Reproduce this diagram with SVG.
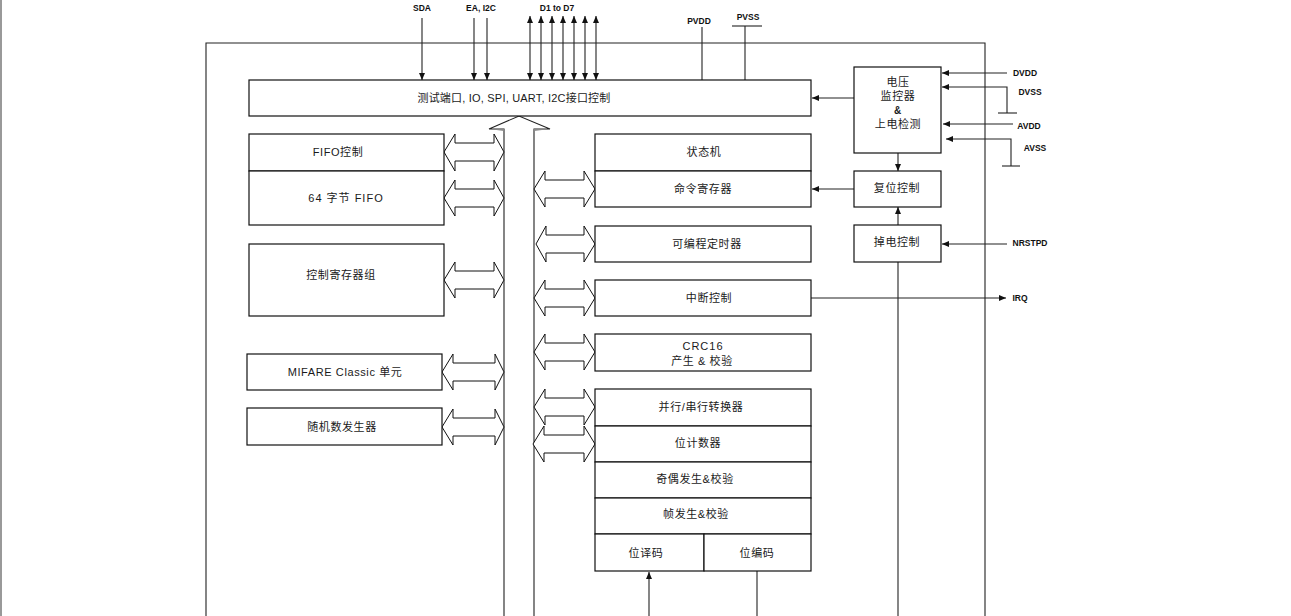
<svg xmlns="http://www.w3.org/2000/svg" width="1291" height="616" viewBox="0 0 1291 616">
<style>
.box{fill:#fff;stroke:#111;stroke-width:1.2}
.ln{stroke:#222;stroke-width:1.1;fill:none}
.dbl{fill:#fff;stroke:#111;stroke-width:1}
.t{font-family:"Liberation Sans","Noto Sans CJK SC",sans-serif;font-size:11px;fill:#1a1a1a;text-anchor:middle;dominant-baseline:central;letter-spacing:0.6px}
.s{font-family:"Liberation Sans","Noto Sans CJK SC",sans-serif;font-size:8.5px;font-weight:bold;fill:#111;text-anchor:middle;dominant-baseline:central}
</style>
<defs>
<marker id="ah" markerUnits="userSpaceOnUse" markerWidth="7" markerHeight="6" refX="7" refY="3" orient="auto-start-reverse"><path d="M0,0 L7,3 L0,6 z" fill="#111"/></marker>
</defs>
<rect x="0" y="0" width="1291" height="616" fill="#fff"/>
<line x1="1" y1="0" x2="1" y2="616" stroke="#777" stroke-width="1.5"/>
<!-- outer frame -->
<path class="ln" d="M206,616 V43 H985 V616" stroke="#222"/>

<g id="connectors">
  <!-- top signals -->
  <line class="ln" x1="422" y1="18" x2="422" y2="80" marker-end="url(#ah)"/>
  <line class="ln" x1="474" y1="18" x2="474" y2="80" marker-end="url(#ah)"/>
  <line class="ln" x1="487" y1="18" x2="487" y2="80" marker-end="url(#ah)"/>
  <line class="ln" x1="530" y1="16" x2="530" y2="80" marker-start="url(#ah)" marker-end="url(#ah)"/>
  <line class="ln" x1="541" y1="16" x2="541" y2="80" marker-start="url(#ah)" marker-end="url(#ah)"/>
  <line class="ln" x1="552" y1="16" x2="552" y2="80" marker-start="url(#ah)" marker-end="url(#ah)"/>
  <line class="ln" x1="563" y1="16" x2="563" y2="80" marker-start="url(#ah)" marker-end="url(#ah)"/>
  <line class="ln" x1="574" y1="16" x2="574" y2="80" marker-start="url(#ah)" marker-end="url(#ah)"/>
  <line class="ln" x1="585" y1="16" x2="585" y2="80" marker-start="url(#ah)" marker-end="url(#ah)"/>
  <line class="ln" x1="596" y1="16" x2="596" y2="80" marker-start="url(#ah)" marker-end="url(#ah)"/>
  <line class="ln" x1="702" y1="27" x2="702" y2="80"/>
  <line class="ln" x1="745" y1="26" x2="745" y2="80"/>
  <line class="ln" x1="732" y1="26" x2="762" y2="26"/>
  <!-- right power signals -->
  <line class="ln" x1="1007" y1="73" x2="942" y2="73" marker-end="url(#ah)"/>
  <path class="ln" d="M1007,113 V87 H942" marker-end="url(#ah)"/>
  <line class="ln" x1="998" y1="113" x2="1017" y2="113"/>
  <line class="ln" x1="1013" y1="124" x2="943" y2="124" marker-end="url(#ah)"/>
  <path class="ln" d="M1011,166 V139 H946" marker-end="url(#ah)"/>
  <line class="ln" x1="1002" y1="166" x2="1020" y2="166"/>
  <line class="ln" x1="854" y1="98" x2="812" y2="98" marker-end="url(#ah)"/>
  <line class="ln" x1="898" y1="153" x2="898" y2="171" marker-end="url(#ah)"/>
  <line class="ln" x1="854" y1="189" x2="812" y2="189" marker-end="url(#ah)"/>
  <line class="ln" x1="898" y1="225" x2="898" y2="207" marker-end="url(#ah)"/>
  <line class="ln" x1="1007" y1="244" x2="942" y2="244" marker-end="url(#ah)"/>
  <line class="ln" x1="898" y1="262" x2="898" y2="616"/>
  <line class="ln" x1="811" y1="298" x2="1006" y2="298" marker-end="url(#ah)"/>
  <line class="ln" x1="649" y1="616" x2="649" y2="572" marker-end="url(#ah)"/>
  <line class="ln" x1="757" y1="571" x2="757" y2="616"/>
  <!-- bus -->
  <path class="ln" d="M504,616 V129 H489 L519,116 L550,129 H534 V616" stroke="#111"/>
  <path d="M489,129 H504 V131 z M534,129 H550 L534,131 z" fill="#888"/>
  <!-- double arrows left -->
  <polygon class="dbl" points="444,152 455,134 455,143 494,143 494,134 504,152 494,171 494,161 455,161 455,171"/>
  <polygon class="dbl" points="444,198 455,180 455,189 494,189 494,180 504,198 494,216 494,207 455,207 455,216"/>
  <polygon class="dbl" points="444,280 455,262 455,271 494,271 494,262 504,280 494,298 494,289 455,289 455,298"/>
  <polygon class="dbl" points="442,372 453,354 453,363 495,363 495,354 504,372 495,390 495,381 453,381 453,390"/>
  <polygon class="dbl" points="442,427 453,409 453,418 495,418 495,409 504,427 495,445 495,436 453,436 453,445"/>
  <!-- double arrows right -->
  <polygon class="dbl" points="534,189 545,171 545,180 584,180 584,171 595,189 584,207 584,198 545,198 545,207"/>
  <polygon class="dbl" points="536,244 546,226 546,235 584,235 584,226 595,244 584,262 584,253 546,253 546,262"/>
  <polygon class="dbl" points="534,298 545,280 545,289 584,289 584,280 595,298 584,316 584,307 545,307 545,316"/>
  <polygon class="dbl" points="534,352 545,334 545,343 584,343 584,334 595,352 584,370 584,361 545,361 545,370"/>
  <polygon class="dbl" points="533,444 544,426 544,435 584,435 584,426 595,444 584,462 584,453 544,453 544,462"/>
  <polygon class="dbl" points="534,407 545,389 545,398 584,398 584,389 595,407 584,425 584,416 545,416 545,425"/>
</g>

<g id="n-top"><rect class="box" x="249" y="80" width="562" height="36"/><text class="t" x="514" y="98" style="letter-spacing:0.2px">测试端口, IO, SPI, UART, I2C接口控制</text></g>
<g id="n-volt"><rect class="box" x="854" y="67" width="87" height="86"/>
  <text class="t" x="898" y="82">电压</text><text class="t" x="898" y="96">监控器</text><text class="t" x="898" y="110" style="font-weight:bold;font-size:10px">&amp;</text><text class="t" x="898" y="124">上电检测</text></g>
<g id="n-reset"><rect class="box" x="854" y="171" width="87" height="36"/><text class="t" x="897" y="188">复位控制</text></g>
<g id="n-pd"><rect class="box" x="854" y="225" width="87" height="37"/><text class="t" x="897" y="242">掉电控制</text></g>
<g id="n-fifoctl"><rect class="box" x="249" y="134" width="195" height="37"/><text class="t" x="338" y="152">FIFO控制</text></g>
<g id="n-fifo"><rect class="box" x="249" y="171" width="195" height="54"/><text class="t" x="346" y="198" style="letter-spacing:1px">64 字节 FIFO</text></g>
<g id="n-regs"><rect class="box" x="249" y="244" width="195" height="72"/><text class="t" x="341" y="275">控制寄存器组</text></g>
<g id="n-mifare"><rect class="box" x="247" y="354" width="195" height="36"/><text class="t" x="345" y="372">MIFARE Classic 单元</text></g>
<g id="n-rng"><rect class="box" x="247" y="408" width="195" height="37"/><text class="t" x="342" y="427">随机数发生器</text></g>
<g id="n-fsm"><rect class="box" x="595" y="134" width="216" height="37"/><text class="t" x="704" y="152">状态机</text></g>
<g id="n-cmd"><rect class="box" x="595" y="171" width="216" height="36"/><text class="t" x="703" y="189">命令寄存器</text></g>
<g id="n-timer"><rect class="box" x="595" y="226" width="216" height="36"/><text class="t" x="707" y="244">可编程定时器</text></g>
<g id="n-irq"><rect class="box" x="595" y="280" width="216" height="36"/><text class="t" x="709" y="298">中断控制</text></g>
<g id="n-crc"><rect class="box" x="595" y="334" width="216" height="37"/><text class="t" x="703" y="346" style="letter-spacing:1px">CRC16</text><text class="t" x="702" y="361">产生 &amp; 校验</text></g>
<g id="n-ps"><rect class="box" x="595" y="389" width="216" height="37"/><text class="t" x="701" y="407">并行/串行转换器</text></g>
<g id="n-bitcnt"><rect class="box" x="595" y="426" width="216" height="36"/><text class="t" x="698" y="443">位计数器</text></g>
<g id="n-parity"><rect class="box" x="595" y="462" width="216" height="36"/><text class="t" x="695" y="479">奇偶发生&amp;校验</text></g>
<g id="n-frame"><rect class="box" x="595" y="498" width="216" height="36"/><text class="t" x="696" y="514">帧发生&amp;校验</text></g>
<g id="n-dec"><rect class="box" x="595" y="534" width="109" height="37"/><text class="t" x="646" y="553">位译码</text></g>
<g id="n-enc"><rect class="box" x="704" y="534" width="107" height="37"/><text class="t" x="757" y="553">位编码</text></g>

<g id="labels">
  <text class="s" x="422" y="8">SDA</text>
  <text class="s" x="481" y="8">EA, I2C</text>
  <text class="s" x="557" y="8">D1 to D7</text>
  <text class="s" x="699" y="21">PVDD</text>
  <text class="s" x="748" y="17">PVSS</text>
  <text class="s" x="1025" y="73">DVDD</text>
  <text class="s" x="1030" y="92">DVSS</text>
  <text class="s" x="1029" y="126">AVDD</text>
  <text class="s" x="1035" y="148">AVSS</text>
  <text class="s" x="1030" y="243">NRSTPD</text>
  <text class="s" x="1020" y="298">IRQ</text>
</g>
</svg>
